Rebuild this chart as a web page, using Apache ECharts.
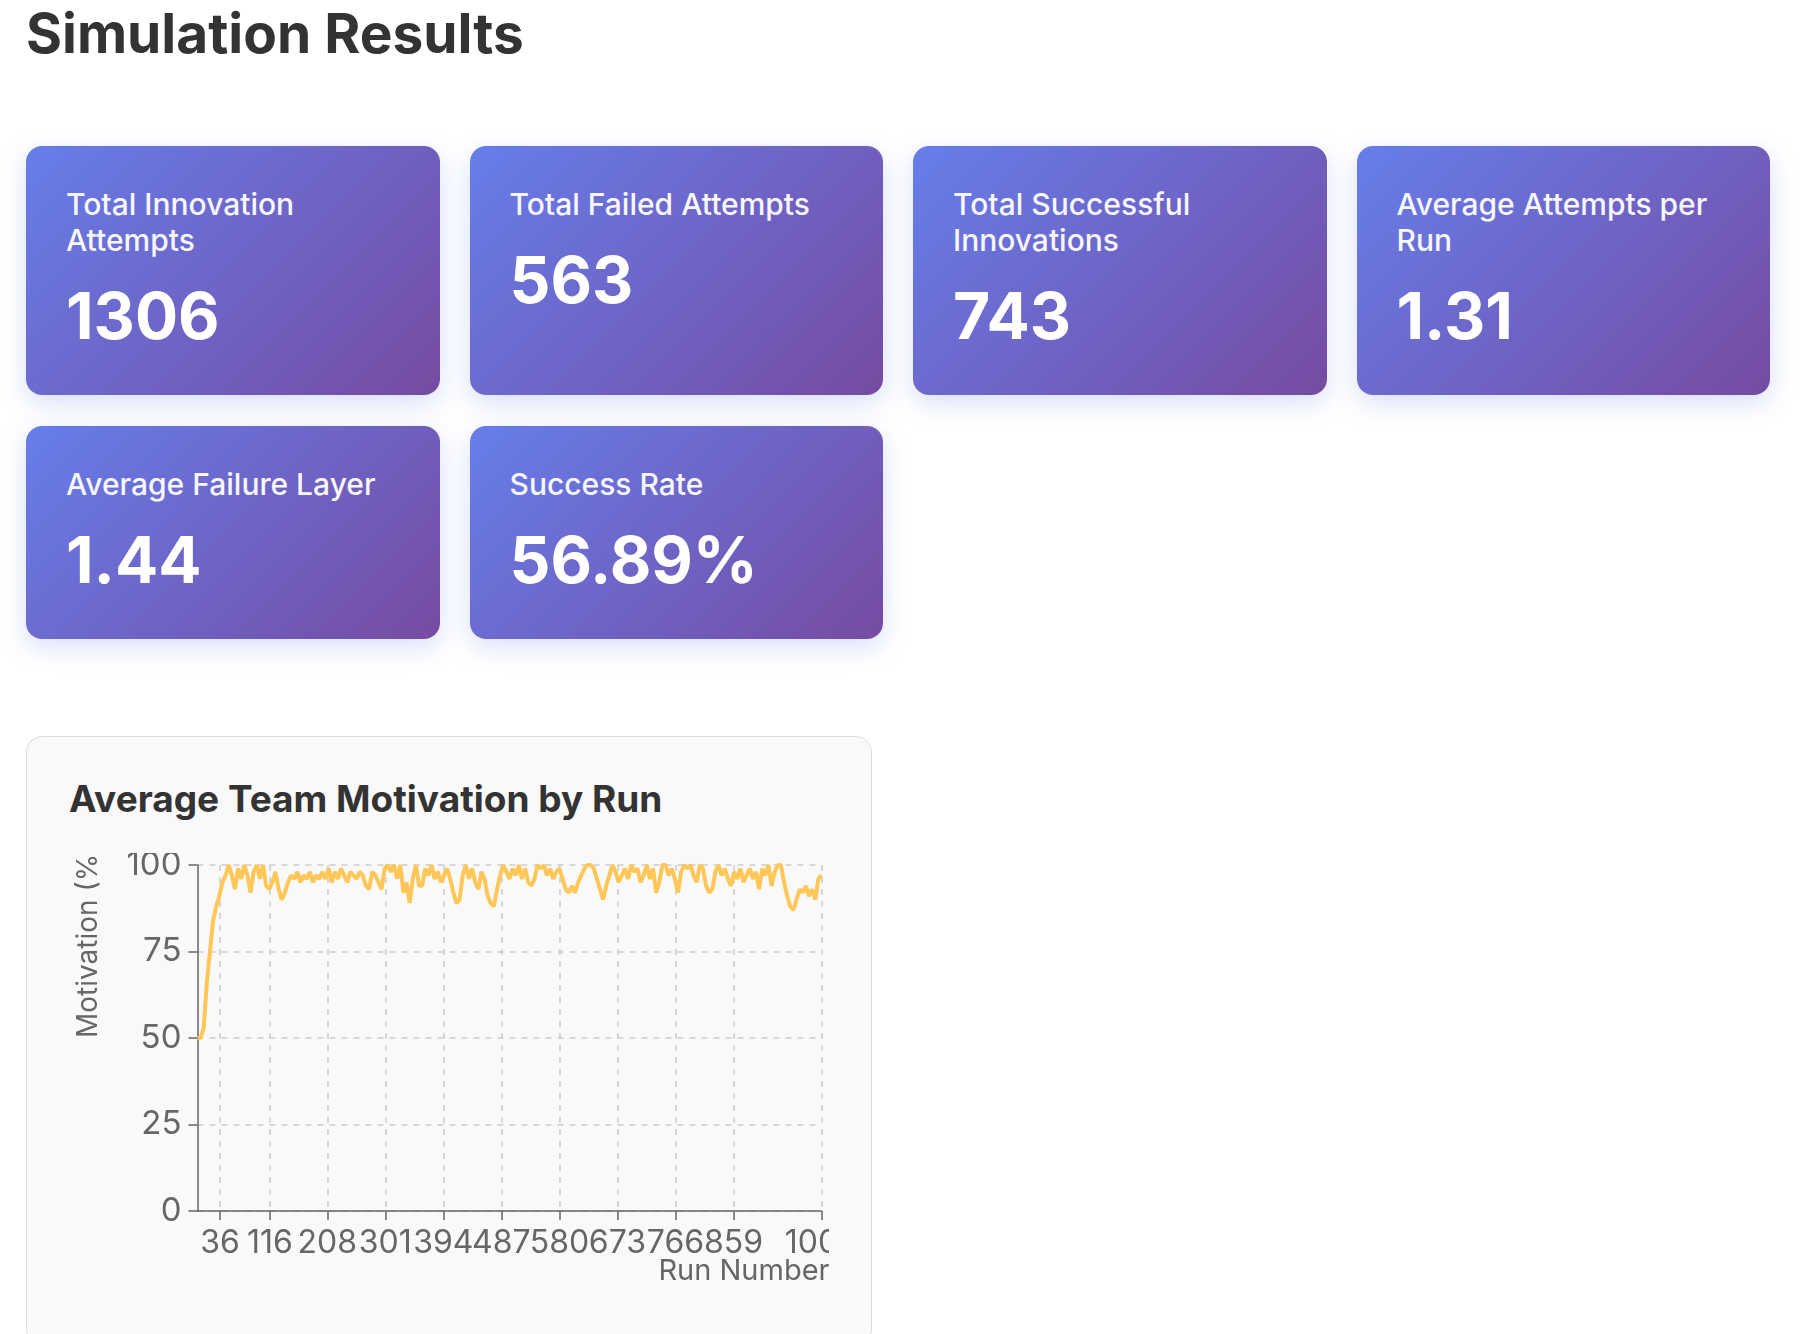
<!DOCTYPE html>
<html>
<head>
	<meta charset="utf-8">
	<title>Simulation Results</title>
	<script src="https://cdn.jsdelivr.net/npm/echarts@6/dist/echarts.min.js"></script>
	<style>
		body { margin: 0; background: #ffffff; font-family: Inter, "Noto Sans", sans-serif; color: #333; }
		.page { padding-left: 26px; width: 1744px; }
		h1 { margin: 0; position: relative; top: 4px; font-size: 55px; line-height: 58px; font-weight: 700; color: #333; }
		.cards { margin-top: 88px; display: grid; grid-template-columns: repeat(4, 1fr); column-gap: 30px; row-gap: 31px; }
		.card {
			background: linear-gradient(135deg, #667eea 0%, #764ba2 100%);
			border-radius: 16px;
			padding: 40px;
			color: #fff;
			box-shadow: 0 8px 24px rgba(102, 126, 234, 0.25);
		}
		.card .label { font-size: 30px; line-height: 36px; font-weight: 500; opacity: 0.95; margin-bottom: 18px; }
		.card .value { font-size: 64px; line-height: 79px; font-weight: 700; }
		.panel {
			box-sizing: border-box;
			margin-top: 97px;
			width: 846px;
			padding: 40px 42px 42px 42px;
			background: #f9f9f9;
			border: 1px solid #dddddd;
			border-radius: 16px;
		}
		.panel h2 { margin: 0; font-size: 37px; line-height: 44px; font-weight: 700; color: #333; }
		#main { margin-top: 32px; width: 760px; height: 450px; }
	</style>
</head>
<body>
	<div class="page">
		<h1>Simulation Results</h1>
		<div class="cards" id="cards"></div>
		<div class="panel">
			<h2>Average Team Motivation by Run</h2>
			<div id="main"></div>
		</div>
	</div>
	<script type="text/javascript">
	// 统计卡片
	var statLabels = ['Total Innovation Attempts', 'Total Failed Attempts', 'Total Successful Innovations',
		'Average Attempts per Run', 'Average Failure Layer', 'Success Rate'];
	var statValues = ['1306', '563', '743', '1.31', '1.44', '56.89%'];

	// 折线数据：run 编号与平均动机 (%)
	var runs = [
		0, 5, 10, 15, 20, 25, 30, 35, 40, 45,
		50, 55, 60, 65, 70, 75, 80, 85, 90, 95,
		100, 105, 110, 115, 120, 125, 130, 135, 140, 145,
		150, 155, 160, 165, 170, 175, 180, 185, 190, 195,
		200, 205, 210, 215, 220, 225, 230, 235, 240, 245,
		250, 255, 260, 265, 270, 275, 280, 285, 290, 295,
		300, 305, 310, 315, 320, 325, 330, 335, 340, 345,
		350, 355, 360, 365, 370, 375, 380, 385, 390, 395,
		400, 405, 410, 415, 420, 425, 430, 435, 440, 445,
		450, 455, 460, 465, 470, 475, 480, 485, 490, 495,
		500, 505, 510, 515, 520, 525, 530, 535, 540, 545,
		550, 555, 560, 565, 570, 575, 580, 585, 590, 595,
		600, 605, 610, 615, 620, 625, 630, 635, 640, 645,
		650, 655, 660, 665, 670, 675, 680, 685, 690, 695,
		700, 705, 710, 715, 720, 725, 730, 735, 740, 745,
		750, 755, 760, 765, 770, 775, 780, 785, 790, 795,
		800, 805, 810, 815, 820, 825, 830, 835, 840, 845,
		850, 855, 860, 865, 870, 875, 880, 885, 890, 895,
		900, 905, 910, 915, 920, 925, 930, 935, 940, 945,
		950, 955, 960, 965, 970, 975, 980, 985, 990, 995,
		1000
	];
	var motivation = [
		50, 50, 53, 66, 75, 84, 88, 91, 95, 97,
		100, 97, 93, 99, 96, 100, 97, 92, 98, 100,
		96, 100, 94, 93, 95, 98, 93, 90, 92, 95,
		97, 96, 98, 95, 97, 96, 98, 95, 97, 96,
		98, 96, 99, 95, 98, 96, 99, 97, 95, 98,
		97, 96, 98, 97, 94, 93, 98, 97, 95, 93,
		99, 100, 98, 100, 96, 100, 92, 95, 89, 96,
		100, 94, 94, 99, 97, 100, 96, 98, 95, 97,
		99, 96, 92, 89, 90, 97, 100, 96, 99, 95,
		93, 98, 96, 91, 89, 88, 93, 97, 100, 98,
		96, 99, 97, 100, 96, 99, 95, 94, 96, 100,
		99, 100, 97, 99, 96, 98, 99, 96, 93, 92,
		94, 92, 95, 97, 99, 100, 100, 99, 96, 93,
		90, 94, 97, 100, 98, 95, 97, 99, 96, 100,
		98, 99, 95, 97, 100, 96, 99, 92, 95, 100,
		100, 97, 99, 96, 92, 98, 100, 99, 100, 97,
		95, 100, 99, 94, 92, 93, 98, 100, 97, 99,
		96, 94, 98, 96, 99, 95, 97, 99, 96, 98,
		93, 99, 97, 100, 94, 98, 100, 100, 95, 91,
		88, 87, 90, 93, 92, 94, 91, 93, 90, 96,
		97
	];
	// x 轴刻度（原图的刻度值）
	var xTicks = [36, 116, 208, 301, 394, 487, 580, 673, 766, 859, 1000];

	// 生成卡片
	var cardsBox = document.getElementById('cards');
	for (var i = 0; i < statLabels.length; i++) {
		var card = document.createElement('div');
		card.className = 'card';
		card.innerHTML = '<div class="label">' + statLabels[i] + '</div><div class="value">' + statValues[i] + '</div>';
		cardsBox.appendChild(card);
	}

	var seriesData = runs.map(function (r, idx) { return [r, motivation[idx]]; });

	var myChart = echarts.init(document.getElementById('main'));
	var axisFont = 'Inter, "Noto Sans", sans-serif';
	var option = {
		animation: false,
		// v6 默认会把标签收进画布，这里关掉，让 1000 像原图那样被裁掉
		grid: { left: 128.5, top: 12, right: 7.5, bottom: 92, containLabel: false, outerBoundsMode: 'none' },
		xAxis: {
			type: 'value',
			min: 0,
			max: 1000,
			name: 'Run Number',
			nameLocation: 'end',
			nameGap: 8,
			nameMoveOverlap: false,
			nameTextStyle: {
				color: '#666', fontSize: 29, fontFamily: axisFont,
				align: 'right', verticalAlign: 'top', padding: [46, 0, 0, 0]
			},
			axisLine: { lineStyle: { color: '#666', width: 1.5 } },
			axisTick: { show: true, length: 9, customValues: xTicks, lineStyle: { color: '#666', width: 1.5 } },
			axisLabel: {
				customValues: xTicks, color: '#666', fontSize: 32, margin: 16, fontFamily: axisFont,
				formatter: function (v) { return String(v); }
			},
			splitLine: { show: true, lineStyle: { color: '#cccccc', width: 1.5, type: [6, 6] } }
		},
		yAxis: {
			type: 'value',
			min: 0,
			max: 100,
			interval: 25,
			name: 'Motivation (%)',
			nameLocation: 'middle',
			nameRotate: 90,
			nameGap: 109,
			nameTextStyle: { color: '#666', fontSize: 28, fontFamily: axisFont, align: 'left', verticalAlign: 'middle' },
			axisLine: { show: true, lineStyle: { color: '#666', width: 1.5 } },
			axisTick: { show: true, length: 9, lineStyle: { color: '#666', width: 1.5 } },
			axisLabel: { color: '#666', fontSize: 33, margin: 16, fontFamily: axisFont },
			splitLine: { show: true, lineStyle: { color: '#cccccc', width: 1.5, type: [6, 6] } }
		},
		series: [
			{
				name: 'Motivation',
				type: 'line',
				data: seriesData,
				showSymbol: false,
				smooth: false,
				lineStyle: { color: '#ffc658', width: 4 },
				itemStyle: { color: '#ffc658' }
			}
		]
	};
	myChart.setOption(option);
	</script>
</body>
</html>
